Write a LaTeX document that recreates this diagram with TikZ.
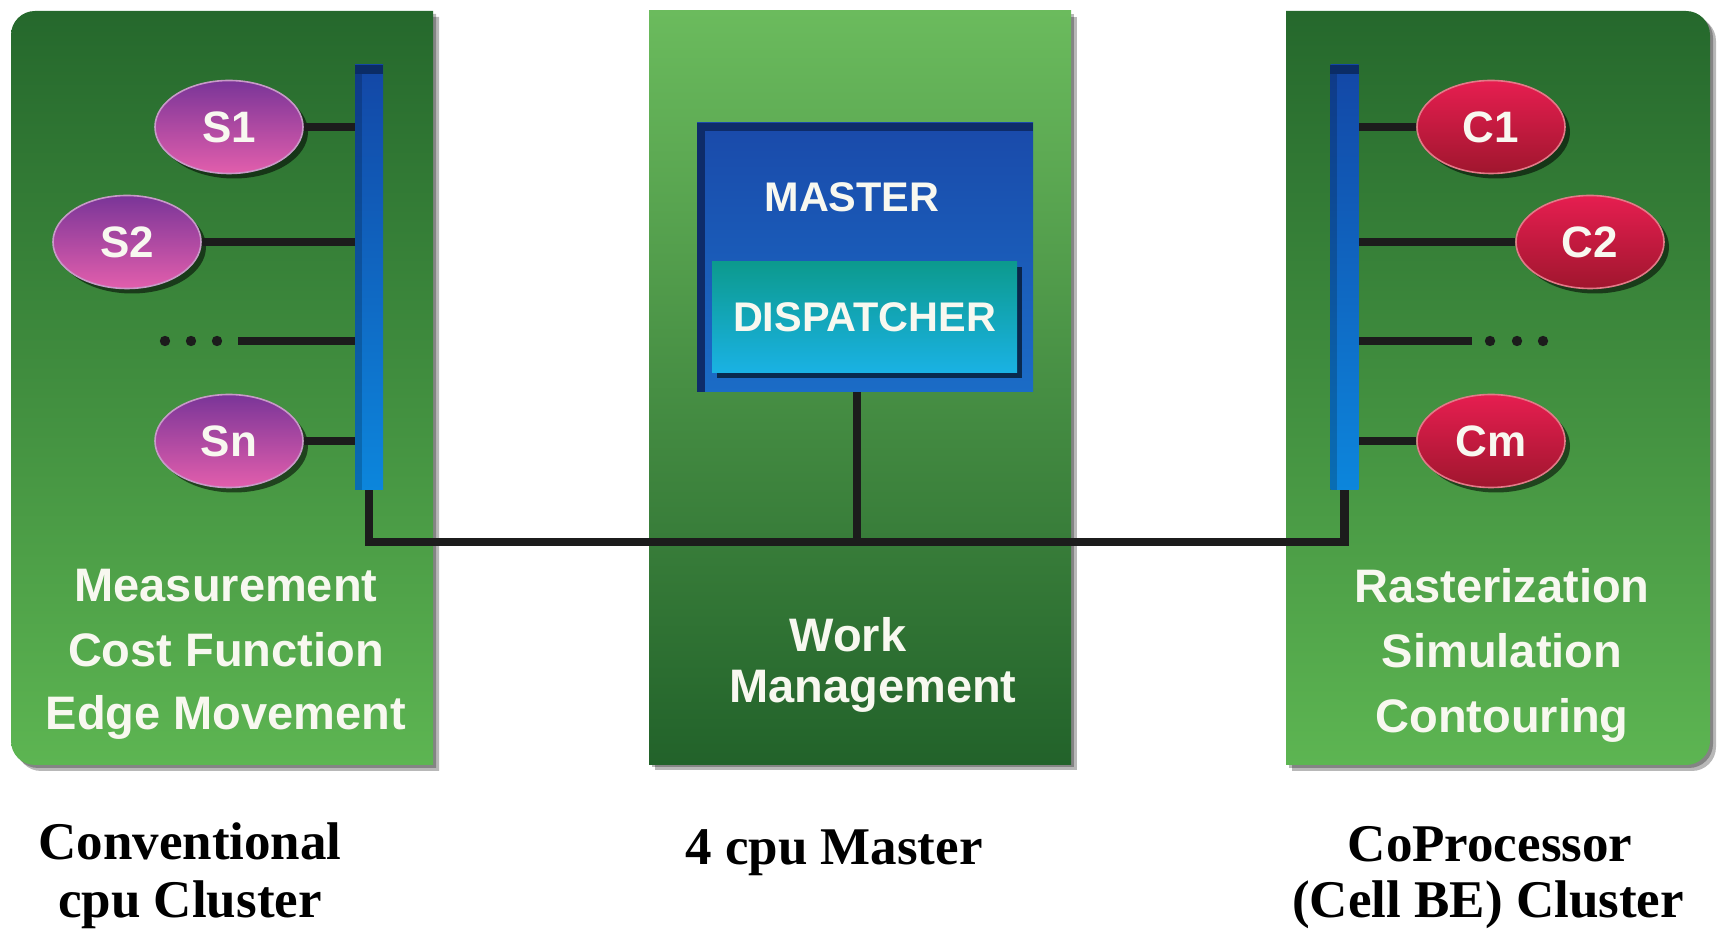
\documentclass[tikz,border=0pt]{standalone}
\usepackage{fontspec}
\setmainfont{Liberation Serif}
\setsansfont{Liberation Sans}
\usetikzlibrary{shapes.geometric,shadows,calc}
\definecolor{gdark}{HTML}{25682C}
\definecolor{glight}{HTML}{5DB552}
\definecolor{mtop}{HTML}{6BBB5D}
\definecolor{mbot}{HTML}{22622A}
\definecolor{btop}{HTML}{1347A6}
\definecolor{bbot}{HTML}{0C86DC}
\definecolor{bcap}{HTML}{0B2C66}
\definecolor{mbtop}{HTML}{1A4AAA}
\definecolor{mbbot}{HTML}{1B6CC6}
\definecolor{mbdark}{HTML}{0E2C6A}
\definecolor{dtop}{HTML}{0C9A8E}
\definecolor{dbot}{HTML}{1AB2E4}
\definecolor{stop}{HTML}{7A3598}
\definecolor{sbot}{HTML}{E25EAC}
\definecolor{sborder}{HTML}{C89AC8}
\definecolor{ctop}{HTML}{E61E50}
\definecolor{cbot}{HTML}{A0162E}
\definecolor{cborder}{HTML}{E27A88}
\definecolor{lineblk}{HTML}{1C1C1C}
\definecolor{txtw}{HTML}{F8F8F0}
\begin{document}
\begin{tikzpicture}[x=0.5pt,y=-0.5pt,
  paneltext/.style={text=txtw, font=\sffamily\bfseries\fontsize{23.5}{28}\selectfont, anchor=base, inner sep=0},
  captext/.style={text=black, font=\rmfamily\bfseries\fontsize{26.5}{30}\selectfont, anchor=base, inner sep=0},
  boxtext/.style={text=txtw, font=\sffamily\bfseries\fontsize{20.7}{24}\selectfont, inner sep=0},
  ellbase/.style={ellipse, minimum width=74pt, minimum height=46.5pt, inner sep=0, line width=0.8pt,
    text=txtw, font=\sffamily\bfseries\fontsize{22}{24}\selectfont,
    drop shadow={shadow xshift=2.5pt, shadow yshift=-2.5pt, opacity=.55, fill=black}},
  sell/.style={ellbase, top color=stop, bottom color=sbot, draw=sborder},
  cell/.style={ellbase, top color=ctop, bottom color=cbot, draw=cborder},
  busbar/.style={rectangle, minimum width=14pt, minimum height=212.5pt, inner sep=0, top color=btop, bottom color=bbot},
  conn/.style={draw=lineblk, line width=4.2pt},
  shadowfill/.style={fill=black, opacity=.28}]
\useasboundingbox (0,0) rectangle (1719,929);
\fill[white] (0,0) rectangle (1719,929);

% ---- panel shadows
\begin{scope}
  \clip (0,0) rectangle (439,929);
  \fill[shadowfill, rounded corners=12pt] (17,17) rectangle (480,771);
\end{scope}
\begin{scope}
  \clip (0,0) rectangle (436,929);
  \fill[shadowfill, rounded corners=12pt] (14,14) rectangle (480,768);
\end{scope}
\fill[shadowfill] (655,17) rectangle (1077,770);
\fill[shadowfill] (652,14) rectangle (1074,767);
\begin{scope}
  \clip (1292,0) rectangle (1719,929);
  \fill[shadowfill, rounded corners=12pt] (1240,17) rectangle (1716,771);
\end{scope}
\begin{scope}
  \clip (1289,0) rectangle (1719,929);
  \fill[shadowfill, rounded corners=12pt] (1240,14) rectangle (1713,768);
\end{scope}

% ---- panels
\begin{scope}
  \clip (0,0) rectangle (433,929);
  \shade[top color=gdark, bottom color=glight, rounded corners=12pt] (11,11) rectangle (480,765);
\end{scope}
\shade[top color=mtop, bottom color=mbot] (649,11) rectangle (1071,765);
\begin{scope}
  \clip (1286,0) rectangle (1719,929);
  \shade[top color=gdark, bottom color=glight, rounded corners=12pt] (1240,11) rectangle (1710,765);
\end{scope}

% ---- bus bars
\node[busbar] (barL) at (369,277.5) {};
\fill[bcap] (barL.north west) rectangle ($(barL.north east)+(0,9)$);
\fill[black, opacity=.18] ($(barL.north west)+(0,9)$) rectangle ($(barL.south west)+(7,0)$);
\node[busbar] (barR) at (1344.5,277.5) {};
\fill[bcap] (barR.north west) rectangle ($(barR.north east)+(0,9)$);
\fill[black, opacity=.18] ($(barR.north west)+(0,9)$) rectangle ($(barR.south west)+(7,0)$);

% ---- master / dispatcher
\node[rectangle, inner sep=0, minimum width=168pt, minimum height=134.5pt,
      top color=mbtop, bottom color=mbbot] (master) at (865,257.5) {};
\fill[mbdark] (master.north west) rectangle ($(master.north east)+(0,8)$);
\fill[mbdark] (master.north west) rectangle ($(master.south west)+(8,0)$);
\node[boxtext] (mastertxt) at (852,197) {MASTER};
\node[rectangle, inner sep=0, minimum width=152.5pt, minimum height=55.5pt,
      top color=dtop, bottom color=dbot,
      drop shadow={shadow xshift=2.5pt, shadow yshift=-2.5pt, opacity=.6, fill=black},
      boxtext] (disp) at (864.5,317.5) {DISPATCHER};

% ---- ellipses
\node[sell] (s1) at (229,127) {S1};
\node[sell] (s2) at (127,242) {S2};
\node[sell] (sn) at (229,441) {Sn};
\node[cell] (c1) at (1491,127) {C1};
\node[cell] (c2) at (1590,242) {C2};
\node[cell] (cm) at (1491,441) {Cm};

% ---- connectors
\draw[conn] (s1.east) -- (s1.east -| barL.west);
\draw[conn] (s2.east) -- (s2.east -| barL.west);
\draw[conn] (sn.east) -- (sn.east -| barL.west);
\coordinate (dl) at (238,341);
\draw[conn] (dl) -- (dl -| barL.west);
\fill[lineblk] (165,341) circle (2.6pt);
\fill[lineblk] (191,341) circle (2.6pt);
\fill[lineblk] (217,341) circle (2.6pt);

\draw[conn] (c1.west) -- (c1.west -| barR.east);
\draw[conn] (c2.west) -- (c2.west -| barR.east);
\draw[conn] (cm.west) -- (cm.west -| barR.east);
\coordinate (dr) at (1472,341);
\draw[conn] (dr -| barR.east) -- (dr);
\fill[lineblk] (1490,341) circle (2.6pt);
\fill[lineblk] (1517,341) circle (2.6pt);
\fill[lineblk] (1543,341) circle (2.6pt);

\coordinate (junc) at (857,542);
\draw[conn] (barL.south) |- (junc) -| (barR.south);
\draw[conn] (master.south -| junc) -- (junc);

% ---- panel texts
\node[paneltext] (l1) at (226,602) {Measurement};
\node[paneltext] (l2) at (226,667) {Cost Function};
\node[paneltext] (l3) at (226,730) {Edge Movement};
\node[paneltext] (m1) at (848,652) {Work};
\node[paneltext] (m2) at (873,703) {Management};
\node[paneltext] (r1) at (1502,603) {Rasterization};
\node[paneltext] (r2) at (1502,668) {Simulation};
\node[paneltext] (r3) at (1502,733) {Contouring};

% ---- captions
\node[captext] (cap1a) at (190,860) {Conventional};
\node[captext] (cap1b) at (190,917) {cpu Cluster};
\node[captext] (cap2) at (834,864) {4 cpu Master};
\node[captext] (cap3a) at (1490,862) {CoProcessor};
\node[captext] (cap3b) at (1488,917) {(Cell BE) Cluster};
\end{tikzpicture}
\end{document}
